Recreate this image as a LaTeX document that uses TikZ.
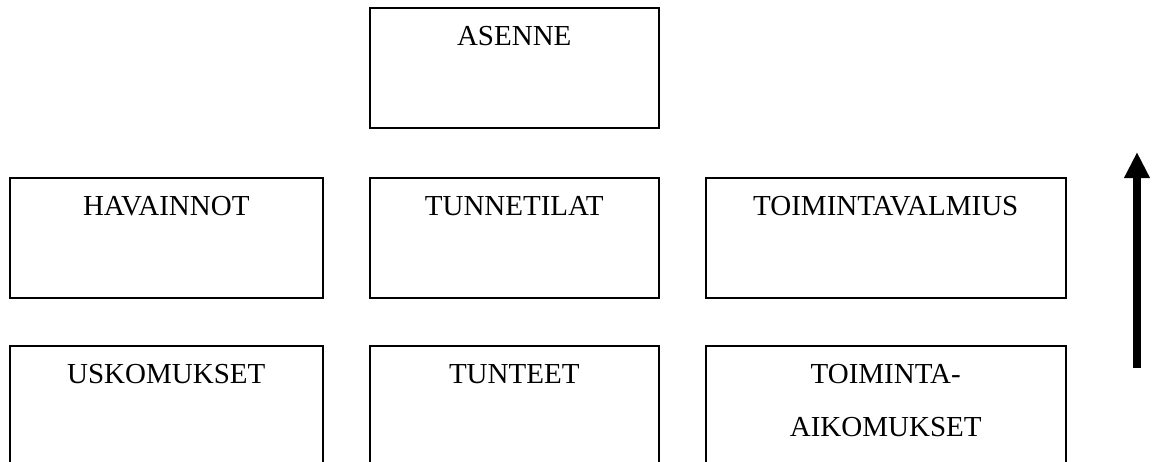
\documentclass[tikz,border=0pt]{standalone}
\usepackage{fontspec}
\setmainfont{Liberation Serif}
\usetikzlibrary{positioning,arrows.meta}

\tikzset{
  box/.style={draw, line width=0.75pt, anchor=north west, inner sep=0pt,
              minimum height=60pt},
  boxtext/.style={inner sep=0pt, align=center,
                  font=\fontsize{14.5}{26.5}\selectfont}
}

\begin{document}
\begin{tikzpicture}[x=0.5pt,y=-0.5pt]
  %% column widths (in pt), one unit = one pixel
  \def\wa{156.5pt}
  \def\wb{144.5pt}
  \def\wc{180pt}

  \useasboundingbox (0,0) rectangle (1152,461);
  \clip (0,0) rectangle (1152,461);

  %% top
  \node[box, minimum width=\wb] (ase) at (369,7) {};

  %% middle row
  \node[box, minimum width=\wa] (hav) at (9,177) {};
  \node[box, minimum width=\wb] (tti) at (369,177) {};
  \node[box, minimum width=\wc] (tva) at (705,177) {};

  %% bottom row, runs off the page
  \node[box, minimum width=\wa] (usk) at (9,345) {};
  \node[box, minimum width=\wb] (tun) at (369,345) {};
  \node[box, minimum width=\wc] (tai) at (705,345) {};

  \node[boxtext, below=9.5pt of ase.north] (ase-t) {ASENNE};
  \node[boxtext, below=9.5pt of hav.north] (hav-t) {HAVAINNOT};
  \node[boxtext, below=9.5pt of tti.north] (tti-t) {TUNNETILAT};
  \node[boxtext, below=9.5pt of tva.north] (tva-t) {TOIMINTAVALMIUS};
  \node[boxtext, below=9.5pt of usk.north] (usk-t) {USKOMUKSET};
  \node[boxtext, below=9.5pt of tun.north] (tun-t) {TUNTEET};
  \node[boxtext, below=9.5pt of tai.north] (tai-t) {TOIMINTA-\\AIKOMUKSET};

  %% the upward arrow on the right
  \coordinate (up-from) at (1137,368);
  \coordinate (up-to) at (1137,152);
  \draw[line width=4pt, -{Triangle[length=13pt,width=12pt]}] (up-from) -- (up-to);
\end{tikzpicture}
\end{document}
